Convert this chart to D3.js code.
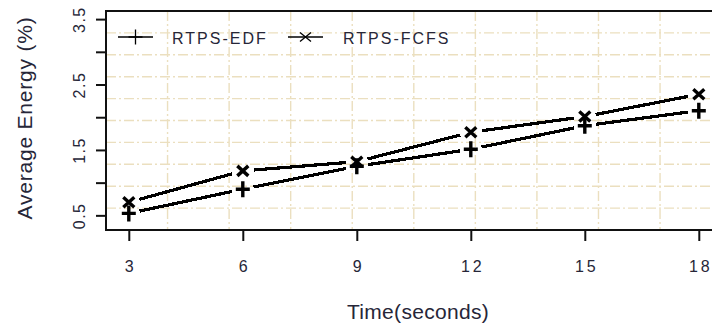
<!DOCTYPE html>
<html>
<head>
<meta charset="utf-8">
<script src="https://cdn.jsdelivr.net/npm/d3@7"></script>
<style>
  html, body { margin: 0; padding: 0; background: #fff; }
  svg { display: block; }
  text { font-family: "Liberation Sans", Arial, sans-serif; fill: #262638; }
</style>
</head>
<body>
<svg id="chart" width="712" height="328"></svg>
<script>
// Simulation time (seconds)
const times = [3, 6, 9, 12, 15, 18];
// Average energy (%) per scheduling policy
const edfEnergy  = [0.53, 0.90, 1.25, 1.51, 1.87, 2.10];
const fcfsEnergy = [0.70, 1.18, 1.32, 1.77, 2.01, 2.35];
const seriesNames = ["RTPS-EDF", "RTPS-FCFS"];
const xTickValues = [3, 6, 9, 12, 15, 18];
const yTickValues = [0.5, 1.0, 1.5, 2.0, 2.5, 3.0, 3.5];
const yLabelValues = [0.5, 1.5, 2.5, 3.5];

const svg = d3.select("#chart");
const plot = { left: 106, right: 721.6, top: 11, bottom: 230 };

const x = d3.scaleLinear().domain([2.4, 18.6]).range([plot.left, plot.right]);
const y = d3.scaleLinear().domain([0.276, 3.624]).range([plot.bottom, plot.top]);

// background grid: ten equal divisions each way, dash-dot
const grid = svg.append("g").attr("stroke", "#ebdfbf").attr("stroke-width", 1.4)
  .attr("stroke-dasharray", "10,3,2,3");
const xd = x.domain(), yd = y.domain();
d3.range(1, 10).forEach(k => {
  const gx = x(xd[0] + k * (xd[1] - xd[0]) / 10);
  grid.append("line").attr("x1", gx).attr("x2", gx).attr("y1", plot.top).attr("y2", plot.bottom);
  const gy = y(yd[0] + k * (yd[1] - yd[0]) / 10);
  grid.append("line").attr("x1", plot.left).attr("x2", plot.right).attr("y1", gy).attr("y2", gy);
});

// plot frame
svg.append("rect")
  .attr("x", plot.left).attr("y", plot.top)
  .attr("width", plot.right - plot.left).attr("height", plot.bottom - plot.top)
  .attr("fill", "none").attr("stroke", "#111").attr("stroke-width", 2);

// x axis
const xAxis = d3.axisBottom(x).tickValues(xTickValues).tickSize(11).tickPadding(20)
  .tickFormat(d3.format("d"));
const gx = svg.append("g").attr("transform", `translate(0,${plot.bottom})`).call(xAxis);
gx.select(".domain").remove();
gx.selectAll(".tick line").attr("stroke", "#111").attr("stroke-width", 2);
gx.selectAll(".tick text").attr("font-size", 16).attr("letter-spacing", 3)
  .attr("font-family", "Liberation Sans, Arial, sans-serif").attr("fill", "#262638")
  .attr("dx", 1.5);

// y axis: ticks every 0.5, labels every 1.0, rotated
const yAxis = d3.axisLeft(y).tickValues(yTickValues).tickSize(10)
  .tickFormat(d => yLabelValues.includes(d) ? d3.format(".1f")(d) : "");
const gy = svg.append("g").attr("transform", `translate(${plot.left},0)`).call(yAxis);
gy.select(".domain").remove();
gy.selectAll(".tick line").attr("stroke", "#111").attr("stroke-width", 2);
gy.selectAll(".tick text")
  .attr("font-size", 16).attr("letter-spacing", 1.5)
  .attr("font-family", "Liberation Sans, Arial, sans-serif").attr("fill", "#262638")
  .attr("x", null).attr("dy", null)
  .attr("text-anchor", "middle")
  .attr("transform", "translate(-27,0) rotate(-90)")
  .attr("dy", "0.35em");

// axis titles
svg.append("text").attr("x", 418).attr("y", 312).attr("dy", "0.35em")
  .attr("text-anchor", "middle").attr("font-size", 21).attr("letter-spacing", 0.3)
  .text("Time(seconds)");
svg.append("text").attr("transform", "translate(25,118) rotate(-90)").attr("dy", "0.35em")
  .attr("text-anchor", "middle").attr("font-size", 21).attr("letter-spacing", 0.8)
  .text("Average Energy (%)");

// marker drawers
function plusPath(cx, cy, w, h) {
  return `M${cx - w},${cy}H${cx + w}M${cx},${cy - h}V${cy + h}`;
}
function crossPath(cx, cy, w, h) {
  return `M${cx - w},${cy - h}L${cx + w},${cy + h}M${cx - w},${cy + h}L${cx + w},${cy - h}`;
}

// lines between points with a gap around each marker
function drawSeries(values, marker, mw, mh) {
  const g = svg.append("g");
  const pts = times.map((t, i) => [x(t), y(values[i])]);
  const gap = 11;
  for (let i = 0; i < pts.length - 1; i++) {
    const [x0, y0] = pts[i], [x1, y1] = pts[i + 1];
    const len = Math.hypot(x1 - x0, y1 - y0);
    const ux = (x1 - x0) / len, uy = (y1 - y0) / len;
    g.append("line")
      .attr("x1", x0 + ux * gap).attr("y1", y0 + uy * gap)
      .attr("x2", x1 - ux * gap).attr("y2", y1 - uy * gap)
      .attr("stroke", "#000").attr("stroke-width", 3.2)
      .attr("shape-rendering", "crispEdges");
  }
  g.selectAll("path.mk").data(pts).join("path").attr("class", "mk")
    .attr("d", p => marker(p[0], p[1], mw, mh))
    .attr("stroke", "#000").attr("stroke-width", 3.4).attr("fill", "none");
}
drawSeries(edfEnergy, plusPath, 7, 8);
drawSeries(fcfsEnergy, crossPath, 5.5, 5);

// legend
const legend = svg.append("g");
const legendItems = [
  { name: seriesNames[0], marker: plusPath, mw: 7, mh: 7.5, x0: 118, tx: 172 },
  { name: seriesNames[1], marker: crossPath, mw: 5.5, mh: 4.5, x0: 288, tx: 343 }
];
legendItems.forEach(it => {
  const ly = 37;
  legend.append("line").attr("x1", it.x0).attr("x2", it.x0 + 35).attr("y1", ly).attr("y2", ly)
    .attr("stroke", "#000").attr("stroke-width", 1.3);
  legend.append("path").attr("d", it.marker(it.x0 + 17.5, ly, it.mw, it.mh))
    .attr("stroke", "#000").attr("stroke-width", 1.3).attr("fill", "none");
  legend.append("text").attr("x", it.tx).attr("y", ly + 1.5).attr("dy", "0.35em")
    .attr("font-size", 16).attr("letter-spacing", 2).text(it.name);
});
</script>
</body>
</html>
